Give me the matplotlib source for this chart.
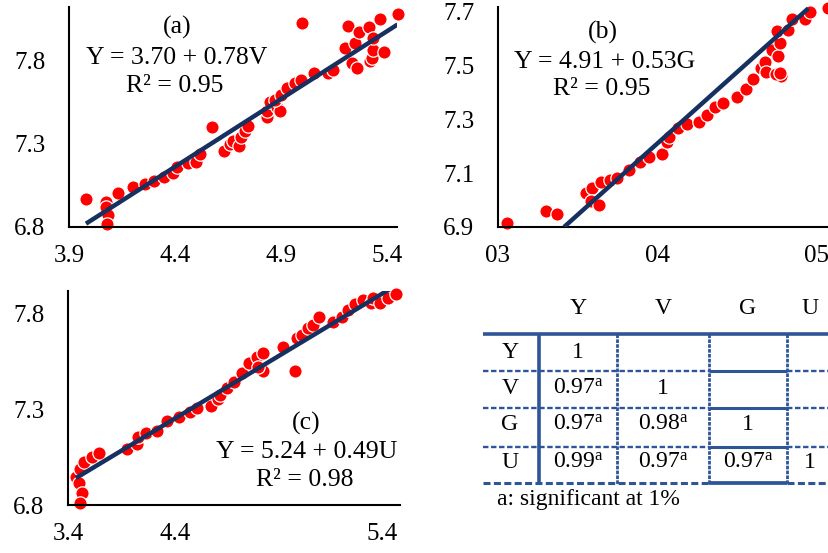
import matplotlib
matplotlib.use('Agg')
import matplotlib.pyplot as plt

plt.rcParams['font.family'] = ['Liberation Serif', 'DejaVu Serif']
plt.rcParams['mathtext.fontset'] = 'custom'
plt.rcParams['mathtext.rm'] = 'Liberation Serif'
plt.rcParams['mathtext.it'] = 'Liberation Serif'

# Panel (a): Y vs V
a_x = [3.98, 4.075, 4.075, 4.085, 4.08, 4.13, 4.20, 4.26, 4.30, 4.35, 4.39, 4.41, 4.46,
       4.50, 4.52, 4.575, 4.63, 4.66, 4.675, 4.70, 4.71, 4.73, 4.745, 4.835, 4.835, 4.85,
       4.88, 4.895, 4.87, 4.90, 4.93, 4.965, 4.995, 5.0, 5.055, 5.12, 5.145, 5.20, 5.215,
       5.235, 5.25, 5.26, 5.27, 5.315, 5.32, 5.33, 5.335, 5.365, 5.385, 5.45, 5.335]
a_y = [6.97, 6.95, 6.92, 6.87, 6.82, 7.005, 7.04, 7.06, 7.08, 7.10, 7.125, 7.16, 7.185,
       7.19, 7.24, 7.40, 7.26, 7.30, 7.32, 7.29, 7.34, 7.38, 7.41, 7.46, 7.50, 7.55,
       7.52, 7.50, 7.565, 7.595, 7.64, 7.67, 7.685, 8.03, 7.73, 7.73, 7.745, 7.88, 8.01,
       7.79, 7.91, 7.76, 7.975, 8.005, 7.80, 7.82, 7.865, 8.05, 7.855, 8.08, 7.94]
a_trend_x = [3.98, 5.45]
a_trend_y = [6.82, 8.02]

# Panel (b): Y vs G
b_x = [3.055, 3.30, 3.37, 3.555, 3.59, 3.585, 3.635, 3.65, 3.705, 3.75, 3.825, 3.895,
       3.95, 4.03, 4.06, 4.075, 4.13, 4.19, 4.26, 4.315, 4.365, 4.415, 4.50, 4.56, 4.60,
       4.65, 4.675, 4.685, 4.72, 4.76, 4.77, 4.78, 4.755, 4.82, 4.845, 4.93, 4.96, 5.075,
       4.75, 4.77]
b_y = [6.915, 6.96, 6.95, 7.025, 7.045, 6.995, 6.98, 7.065, 7.075, 7.08, 7.11, 7.14,
       7.16, 7.17, 7.215, 7.235, 7.265, 7.28, 7.29, 7.315, 7.345, 7.36, 7.38, 7.41, 7.45,
       7.49, 7.51, 7.475, 7.555, 7.535, 7.58, 7.46, 7.625, 7.63, 7.67, 7.67, 7.695, 7.71,
       7.465, 7.47]
b_trend_x = [3.415, 4.95]
b_trend_y = [6.90, 7.71]

# Panel (c): Y vs U
c_x = [3.45, 3.47, 3.49, 3.475, 3.475, 3.50, 3.55, 3.60, 3.775, 3.84, 3.845, 3.895,
       3.965, 4.03, 4.11, 4.18, 4.22, 4.31, 4.355, 4.37, 4.41, 4.46, 4.51, 4.55, 4.605,
       4.645, 4.645, 4.61, 4.77, 4.845, 4.86, 4.89, 4.93, 4.96, 5.00, 5.09, 5.145, 5.185,
       5.23, 5.28, 5.33, 5.34, 5.385, 5.44, 5.49]
c_y = [6.945, 6.915, 6.86, 6.81, 6.99, 7.025, 7.05, 7.07, 7.09, 7.12, 7.155, 7.175,
       7.185, 7.24, 7.26, 7.285, 7.305, 7.315, 7.35, 7.375, 7.41, 7.44, 7.49, 7.54, 7.57,
       7.59, 7.50, 7.52, 7.625, 7.50, 7.67, 7.685, 7.72, 7.74, 7.78, 7.755, 7.78, 7.815,
       7.845, 7.87, 7.85, 7.88, 7.85, 7.88, 7.90]
c_trend_x = [3.45, 5.45]
c_trend_y = [6.94, 7.925]

labels = ['(a)', '(b)', '(c)']
equations = ['Y = 3.70 + 0.78V', 'Y = 4.91 + 0.53G', 'Y = 5.24 + 0.49U']
r2_texts = ['R² = 0.95', 'R² = 0.95', 'R² = 0.98']

# correlation table
tbl_cols = ['Y', 'V', 'G', 'U']
tbl_rows = ['Y', 'V', 'G', 'U']
tbl_cells = [['1', '', '', ''],
             [r'0.97$^{\mathrm{a}}$', '1', '', ''],
             [r'0.97$^{\mathrm{a}}$', r'0.98$^{\mathrm{a}}$', '1', ''],
             [r'0.99$^{\mathrm{a}}$', r'0.97$^{\mathrm{a}}$', r'0.97$^{\mathrm{a}}$', '1']]
footnote = 'a: significant at 1%'

W, H = 829, 553
fig = plt.figure(figsize=(W / 100, H / 100), dpi=100)


def px_axes(left, top, right, bottom):
    return fig.add_axes([left / W, 1 - bottom / H, (right - left) / W, (bottom - top) / H])


def style(ax):
    for s in ['top', 'right']:
        ax.spines[s].set_visible(False)
    for s in ['left', 'bottom']:
        ax.spines[s].set_linewidth(1.5)
        ax.spines[s].set_color('black')
    ax.tick_params(length=0, labelsize=18)
    ax.tick_params(axis='y', pad=17)
    ax.tick_params(axis='x', pad=13)
    ax.patch.set_alpha(0)


def panel(ax, x, y, tx, ty):
    ax.scatter(x, y, s=92, c='#FF0000', edgecolors='white', linewidths=0.9,
               zorder=2, clip_on=False)
    ax.plot(tx, ty, color='#16305F', lw=3.2, solid_capstyle='butt', zorder=3)


txt_kw = dict(ha='center', va='center', fontsize=18.5)

# (a)
ax1 = px_axes(69, 7, 397, 227)
panel(ax1, a_x, a_y, a_trend_x, a_trend_y)
ax1.set_xlim(3.9, 5.447)
ax1.set_ylim(6.8, 8.125)
ax1.set_xticks([3.9, 4.4, 4.9, 5.4])
ax1.set_xticklabels(['3.9', '4.4', '4.9', '5.4'])
ax1.set_yticks([6.8, 7.3, 7.8])
ax1.set_yticklabels(['6.8', '7.3', '7.8'])
style(ax1)
ax1.text(4.41, 8.0, labels[0], **txt_kw)
ax1.text(4.41, 7.82, equations[0], **txt_kw)
ax1.text(4.40, 7.65, r2_texts[0], **txt_kw)

# (b)
ax2 = px_axes(498, 7, 829, 227)
panel(ax2, b_x, b_y, b_trend_x, b_trend_y)
ax2.set_xlim(3.0, 5.08)
ax2.set_ylim(6.9, 7.715)
ax2.set_xticks([3.0, 4.0, 5.0])
ax2.set_xticklabels(['03', '04', '05'])
ax2.set_yticks([6.9, 7.1, 7.3, 7.5, 7.7])
ax2.set_yticklabels(['6.9', '7.1', '7.3', '7.5', '7.7'])
style(ax2)
ax2.text(3.66, 7.62, labels[1], **txt_kw)
ax2.text(3.67, 7.51, equations[1], **txt_kw)
ax2.text(3.65, 7.41, r2_texts[1], **txt_kw)

# (c)
ax3 = px_axes(68, 291, 400, 505)
panel(ax3, c_x, c_y, c_trend_x, c_trend_y)
ax3.set_xlim(3.4, 5.515)
ax3.set_ylim(6.8, 7.915)
# middle label sits off-centre in the original
ax3.set_xticks([3.4, 4.08, 5.4])
ax3.set_xticklabels(['3.4', '4.4', '5.4'])
ax3.set_yticks([6.8, 7.3, 7.8])
ax3.set_yticklabels(['6.8', '7.3', '7.8'])
style(ax3)
ax3.text(4.92, 7.227, labels[2], **txt_kw)
ax3.text(4.92, 7.076, equations[2], **txt_kw)
ax3.text(4.91, 6.93, r2_texts[2], **txt_kw)

# table, drawn in pixel coordinates
axt = px_axes(470, 280, 829, 553)
axt.set_xlim(470, 829)
axt.set_ylim(553, 280)
axt.axis('off')
blue = '#2E5597'
col_x = [578, 663, 748, 810]
row_y = [352, 388, 424, 462]
h_lines = [371, 408, 447, 483]
dash_h = (0, (2.3, 1.1))
dash_v = (0, (1.3, 0.45))

axt.plot([483, 829], [334, 334], color=blue, lw=2.6, solid_capstyle='butt')
axt.plot([539, 539], [334, 485], color=blue, lw=2.6, solid_capstyle='butt')
for xv in [617, 709, 787]:
    axt.plot([xv, xv], [334, 484], color=blue, lw=2.0, linestyle=dash_v)
for i, yv in enumerate(h_lines):
    lw = 2.2 if i == 3 else 1.7
    axt.plot([483, 709], [yv, yv], color=blue, lw=lw, linestyle=dash_h)
    axt.plot([787, 829], [yv, yv], color=blue, lw=lw, linestyle=dash_h)
    axt.plot([709, 787], [yv, yv], color=blue, lw=lw + 0.5, solid_capstyle='butt')

for cx, c in zip(col_x, tbl_cols):
    axt.text(cx, 308, c, ha='center', va='center', fontsize=17)
for ry, r, row in zip(row_y, tbl_rows, tbl_cells):
    axt.text(510, ry, r, ha='center', va='center', fontsize=17)
    for cx, v in zip(col_x, row):
        if v:
            axt.text(cx, ry, v, ha='center', va='center', fontsize=17)
axt.text(497, 500, footnote, ha='left', va='center', fontsize=17)

fig.savefig('out.png', dpi=100)
